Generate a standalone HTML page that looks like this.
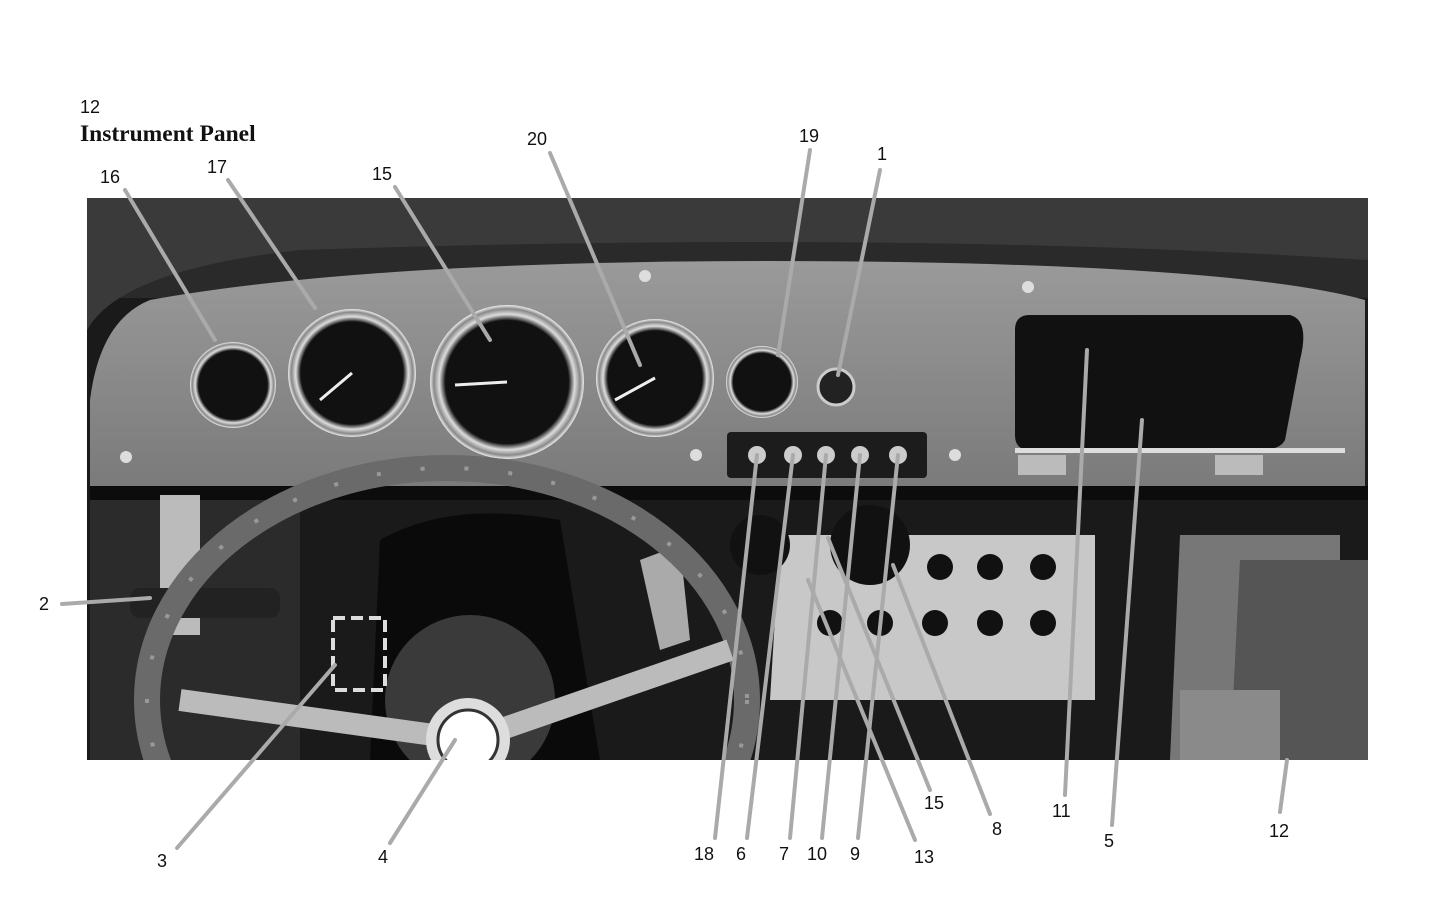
<!DOCTYPE html>
<html><head><meta charset="utf-8"><style>
html,body{margin:0;padding:0;background:#fff;}
svg{display:block;}
text{font-family:"Liberation Sans",sans-serif;font-size:18px;fill:#111;}
</style></head><body>
<svg width="1445" height="917" viewBox="0 0 1445 917" xmlns="http://www.w3.org/2000/svg">
<defs>
<clipPath id="ph"><rect x="87" y="198" width="1281" height="562"/></clipPath>
<radialGradient id="gg" cx="50%" cy="50%" r="50%"><stop offset="0.8" stop-color="#111"/><stop offset="0.88" stop-color="#ddd"/><stop offset="0.95" stop-color="#888"/><stop offset="1" stop-color="#eee"/></radialGradient>
<linearGradient id="pan" x1="0" y1="0" x2="0" y2="1"><stop offset="0" stop-color="#9a9a9a"/><stop offset="1" stop-color="#7a7a7a"/></linearGradient>
</defs>
<g clip-path="url(#ph)">
<rect x="87" y="198" width="1281" height="562" fill="#1a1a1a"/>
<rect x="87" y="198" width="1281" height="100" fill="#2a2a2a"/>
<path d="M87 198 H1368 V260 Q900 230 300 250 Q120 270 87 330 Z" fill="#3a3a3a"/>
<path d="M150 300 Q400 255 900 262 Q1250 268 1365 300 V490 H90 V400 Q100 320 150 300 Z" fill="url(#pan)"/>
<rect x="90" y="486" width="1278" height="14" fill="#0c0c0c"/>
<path d="M1030 315 H1290 Q1310 320 1300 360 L1285 440 Q1280 450 1260 450 H1030 Q1015 450 1015 435 V330 Q1015 315 1030 315 Z" fill="#111"/>
<rect x="1015" y="448" width="330" height="5" fill="#ddd"/>
<rect x="1018" y="455" width="48" height="20" fill="#bbb"/><rect x="1215" y="455" width="48" height="20" fill="#bbb"/>
<circle cx="233" cy="385" r="43" fill="url(#gg)"/>
<circle cx="352" cy="373" r="64" fill="url(#gg)"/>
<circle cx="507" cy="382" r="77" fill="url(#gg)"/>
<circle cx="655" cy="378" r="59" fill="url(#gg)"/>
<circle cx="762" cy="382" r="36" fill="url(#gg)"/>
<circle cx="836" cy="387" r="18" fill="#222" stroke="#ccc" stroke-width="3"/>
<g stroke="#eee" stroke-width="3"><line x1="352" y1="373" x2="320" y2="400"/><line x1="507" y1="382" x2="455" y2="385"/><line x1="655" y1="378" x2="615" y2="400"/></g>
<rect x="727" y="432" width="200" height="46" rx="4" fill="#1c1c1c"/>
<g fill="#ccc"><circle cx="757" cy="455" r="9"/><circle cx="793" cy="455" r="9"/><circle cx="826" cy="455" r="9"/><circle cx="860" cy="455" r="9"/><circle cx="898" cy="455" r="9"/></g>
<g fill="#ddd"><circle cx="645" cy="276" r="6"/><circle cx="1028" cy="287" r="6"/><circle cx="126" cy="457" r="6"/><circle cx="696" cy="455" r="6"/><circle cx="955" cy="455" r="6"/></g>
<rect x="90" y="500" width="210" height="260" fill="#2b2b2b"/>
<rect x="160" y="495" width="40" height="140" fill="#bbb"/>
<path d="M780 535 H1095 V700 H770 Z" fill="#c8c8c8"/>
<g fill="#111"><circle cx="940" cy="567" r="13"/><circle cx="990" cy="567" r="13"/><circle cx="1043" cy="567" r="13"/><circle cx="830" cy="623" r="13"/><circle cx="880" cy="623" r="13"/><circle cx="935" cy="623" r="13"/><circle cx="990" cy="623" r="13"/><circle cx="1043" cy="623" r="13"/></g>
<circle cx="760" cy="545" r="30" fill="#111"/><circle cx="870" cy="545" r="40" fill="#111"/>
<path d="M640 560 L680 545 L690 640 L660 650 Z" fill="#aaa"/>
<path d="M1180 535 H1340 V760 H1170 Z" fill="#777"/>
<path d="M1240 560 H1368 V760 H1230 Z" fill="#555"/>
<rect x="1180" y="690" width="100" height="70" fill="#8a8a8a"/>
<rect x="130" y="588" width="150" height="30" rx="10" fill="#222"/>
<path d="M380 540 Q450 500 560 520 L600 760 H370 Z" fill="#0a0a0a"/>
<circle cx="470" cy="700" r="85" fill="#3a3a3a"/>
<ellipse cx="447" cy="700" rx="300" ry="232" fill="none" stroke="#6a6a6a" stroke-width="26"/>
<ellipse cx="447" cy="700" rx="300" ry="232" fill="none" stroke="#999" stroke-width="4" stroke-dasharray="4 40"/>
<g stroke="#bbb" stroke-width="22"><line x1="470" y1="740" x2="730" y2="650"/><line x1="470" y1="740" x2="180" y2="700"/></g>
<circle cx="468" cy="740" r="42" fill="#ddd"/><circle cx="468" cy="740" r="30" fill="#fff" stroke="#333" stroke-width="3"/>
<rect x="333" y="618" width="52" height="72" fill="none" stroke="#ddd" stroke-width="4" stroke-dasharray="12 6"/>
</g>
<g stroke="#aaa" stroke-width="4" stroke-linecap="round">
<line x1="125" y1="190" x2="215" y2="340"/>
<line x1="228" y1="180" x2="315" y2="308"/>
<line x1="395" y1="187" x2="490" y2="340"/>
<line x1="550" y1="153" x2="640" y2="365"/>
<line x1="810" y1="150" x2="778" y2="355"/>
<line x1="880" y1="170" x2="838" y2="375"/>
<line x1="62" y1="604" x2="150" y2="598"/>
<line x1="177" y1="848" x2="335" y2="665"/>
<line x1="390" y1="843" x2="455" y2="740"/>
<line x1="715" y1="838" x2="757" y2="455"/>
<line x1="747" y1="838" x2="793" y2="455"/>
<line x1="790" y1="838" x2="826" y2="455"/>
<line x1="822" y1="838" x2="860" y2="455"/>
<line x1="858" y1="838" x2="898" y2="455"/>
<line x1="915" y1="840" x2="808" y2="580"/>
<line x1="930" y1="790" x2="828" y2="538"/>
<line x1="990" y1="814" x2="893" y2="565"/>
<line x1="1065" y1="795" x2="1087" y2="350"/>
<line x1="1112" y1="825" x2="1142" y2="420"/>
<line x1="1280" y1="812" x2="1287" y2="760"/>
</g>
<text x="80" y="113">12</text>
<text x="80" y="141" font-weight="bold" style="font-family:'Liberation Serif',serif;font-size:23.5px">Instrument Panel</text>
<text x="100" y="183">16</text>
<text x="207" y="173">17</text>
<text x="372" y="180">15</text>
<text x="527" y="145">20</text>
<text x="799" y="142">19</text>
<text x="877" y="160">1</text>
<text x="39" y="610">2</text>
<text x="157" y="867">3</text>
<text x="378" y="863">4</text>
<text x="694" y="860">18</text>
<text x="736" y="860">6</text>
<text x="779" y="860">7</text>
<text x="807" y="860">10</text>
<text x="850" y="860">9</text>
<text x="914" y="863">13</text>
<text x="924" y="809">15</text>
<text x="992" y="835">8</text>
<text x="1052" y="817">11</text>
<text x="1104" y="847">5</text>
<text x="1269" y="837">12</text>
</svg>
</body></html>
